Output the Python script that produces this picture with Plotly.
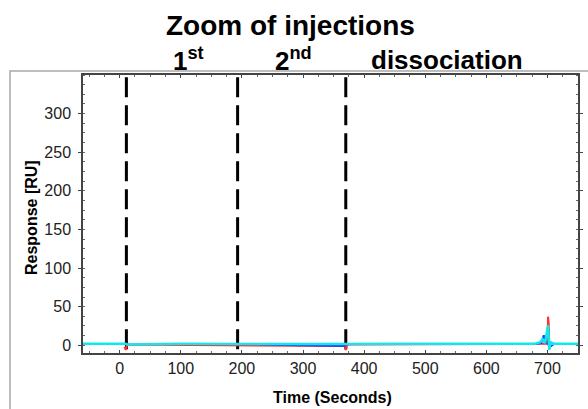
import plotly.graph_objects as go

# ---- data ----
event_times = [11, 193, 370]
event_labels = ["1<sup>st</sup>", "2<sup>nd</sup>", "dissociation"]

x_ticks = [0, 100, 200, 300, 400, 500, 600, 700]
y_ticks = [0, 50, 100, 150, 200, 250, 300]

cyan_t = [-60, 0, 10, 12, 100, 190, 195, 300, 369, 372, 450, 550, 650, 680, 688, 692, 696, 699, 701, 703, 705, 710, 750]
cyan_r = [2, 2, 2, 1, 2, 1.5, 1.5, 1.5, 1, 1.5, 2, 2, 2, 2, 4, 8, 3, 18, 26, -6, 4, 2, 2]

blue_t = [230, 260, 300, 340, 368, 369, 380, 420, 460, 680, 690, 694, 697, 700, 704, 710]
blue_r = [1, 0.5, 0, -0.5, -1, 1, 1.5, 1.5, 1.5, 1.5, 3, 13, 6, 2, -2, 1.5]

red_t = [8, 10, 12, 368, 370, 372, 700, 701, 702, 703]
red_r = [-2, -6, 1, -1, -6, 1, 2, 37, 28, 2]

fig = go.Figure()

for t in event_times:
    fig.add_trace(go.Scatter(x=[t, t], y=[347, -10], mode="lines",
                             line=dict(color="black", width=3, dash="20px,8px"),
                             showlegend=False, hoverinfo="skip"))

fig.add_trace(go.Scatter(x=red_t, y=red_r, mode="lines",
                         line=dict(color="#ff3030", width=2), showlegend=False))
fig.add_trace(go.Scatter(x=blue_t, y=blue_r, mode="lines",
                         line=dict(color="#2040ff", width=2), showlegend=False))
fig.add_trace(go.Scatter(x=cyan_t, y=cyan_r, mode="lines",
                         line=dict(color="#10e8f0", width=2.5), showlegend=False))

font = "Liberation Sans, Arial, sans-serif"

L, R, T, B = 83, 578, 75, 353
W, H = R - L, B - T


def px_x(p):
    return (p - L) / W


def px_y(p):
    return (B - p) / H


annotations = [
    dict(text="<b>Zoom of injections</b>", x=px_x(290), y=px_y(25), xref="paper", yref="paper",
         xanchor="center", yanchor="middle",
         showarrow=False, font=dict(size=28, color="black", family=font)),
    dict(text="<b>Time (Seconds)</b>", x=px_x(332), y=px_y(397), xref="paper", yref="paper",
         xanchor="center", yanchor="middle",
         showarrow=False, font=dict(size=16, color="black", family=font)),
    dict(text="<b>Response [RU]</b>", x=px_x(31), y=px_y(218), xref="paper", yref="paper",
         xanchor="center", yanchor="middle", textangle=-90,
         showarrow=False, font=dict(size=16, color="black", family=font)),
]

label_px = [188, 293, 447]
for lab, px in zip(event_labels, label_px):
    annotations.append(dict(text="<b>" + lab + "</b>", x=px_x(px), y=px_y(60),
                            xref="paper", yref="paper", showarrow=False,
                            xanchor="center", yanchor="middle",
                            font=dict(size=26, color="black", family=font)))

fig.update_layout(
    width=588, height=409,
    margin=dict(l=L, r=588 - R, t=T, b=409 - B, autoexpand=False),
    paper_bgcolor="white", plot_bgcolor="white",
    font=dict(family=font, size=16, color="#222"),
    annotations=annotations,
    shapes=[dict(type="rect", xref="paper", yref="paper",
                 x0=px_x(10), x1=px_x(600),
                 y0=px_y(420), y1=px_y(71),
                 line=dict(color="#a8a8a8", width=1.5), layer="below")],
    xaxis=dict(range=[-60, 750], tickvals=x_ticks, automargin=False,
               showline=True, linecolor="#444", linewidth=1.5, mirror="allticks",
               ticks="inside", ticklen=3, tickcolor="#444", showgrid=False, zeroline=False,
               minor=dict(dtick=25, ticks="inside", ticklen=2, tickcolor="#666"),
               tickfont=dict(size=16, color="#222", family=font)),
    yaxis=dict(range=[-10, 350], tickvals=y_ticks, automargin=False,
               showline=True, linecolor="#444", linewidth=1.5, mirror="allticks",
               ticks="outside", ticklen=3, tickcolor="#444", showgrid=False, zeroline=False,
               ticklabelstandoff=4,
               minor=dict(dtick=12.5, ticks="inside", ticklen=2, tickcolor="#666"),
               tickfont=dict(size=16, color="#222", family=font)),
)

fig.write_html("out.html", config={"displayModeBar": False},
               post_script="document.body.style.margin='0';document.body.style.overflow='hidden';")
